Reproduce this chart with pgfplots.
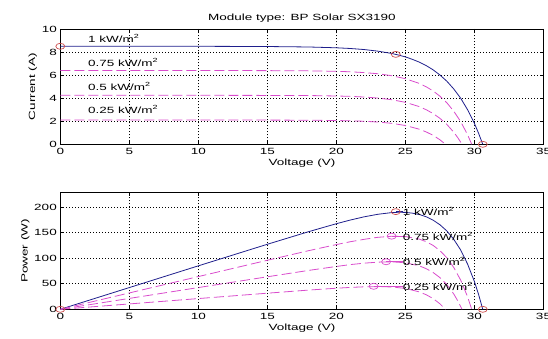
\documentclass[border=0pt]{standalone}
\usepackage{fontspec}
\setmainfont{Liberation Sans}[FakeStretch=1.5]
\usepackage{pgfplots}
\pgfplotsset{compat=1.18}
\definecolor{mblue}{rgb}{0.12,0.12,0.55}
\definecolor{mmag}{rgb}{0.85,0.30,0.80}
\definecolor{mred}{rgb}{0.80,0.30,0.30}
\pgfplotsset{mat/.style={
  scale only axis, width=483.2pt,
  xmin=0, xmax=35, xtick={0,5,...,35},
  grid=major, major grid style={black, line width=0.5pt, dash pattern=on 1pt off 2pt},
  tick align=inside, major tick length=3pt,
  tick style={black, line width=0.5pt},
  axis line style={black, line width=0.6pt},
  font=\fontsize{9}{10}\selectfont,
  /pgf/number format/assume math mode=true,
  xlabel={Voltage (V)},
  xlabel style={yshift=2pt},
  ylabel style={yshift=-2pt},
  clip=true,
}}
\tikzset{mk/.style={only marks, mark=o, mark size=3pt, mark options={solid, line width=0.7pt, xscale=1.5}},
  bl/.style={mblue, line width=0.8pt},
  dl/.style={mmag, line width=0.8pt, dash pattern=on 10pt off 4pt}}
\begin{document}
\begin{tikzpicture}
% ---------- top: current ----------
\begin{axis}[mat, at={(60.3pt,193.7pt)}, anchor=south west, height=115.3pt,
  ymin=0, ymax=10, ytick={0,2,...,10}, ylabel={Current (A)},
  title={Module type: BP Solar SX3190}, title style={yshift=-3pt}]
\addplot[bl] coordinates {(0,8.5)(5,8.5)(10,8.5)(15,8.48)(18,8.44)(20,8.37)(21,8.31)(22,8.22)(23,8.08)(24,7.88)(24.5,7.74)(25,7.58)(25.5,7.37)(26,7.13)(26.5,6.83)(27,6.46)(27.5,6.01)(28,5.47)(28.5,4.80)(29,4.00)(29.5,3.00)(30,1.80)(30.3,0.95)(30.6,0)};
\addplot[dl] coordinates {(0,6.4)(5,6.4)(10,6.4)(15,6.39)(18,6.37)(20,6.33)(21,6.29)(22,6.22)(23,6.12)(24,5.95)(25,5.69)(26,5.28)(26.5,4.99)(27,4.63)(27.5,4.17)(28,3.60)(28.5,2.87)(29,1.97)(29.5,0.83)(29.8,0)};
\addplot[dl] coordinates {(0,4.25)(5,4.25)(10,4.25)(15,4.24)(18,4.23)(20,4.19)(21,4.16)(22,4.10)(23,4.01)(24,3.87)(25,3.64)(26,3.27)(26.5,3.00)(27,2.67)(27.5,2.25)(28,1.72)(28.5,1.05)(28.8,0.56)(29.1,0)};
\addplot[dl] coordinates {(0,2.1)(5,2.1)(10,2.1)(15,2.1)(18,2.09)(20,2.06)(21,2.04)(22,2.00)(23,1.93)(24,1.82)(25,1.63)(26,1.31)(26.5,1.075)(27,0.78)(27.5,0.39)(27.9,0)};
\addplot[mk, mred] coordinates {(0,8.5)(24.3,7.8)(30.6,0)};
\node[anchor=west, inner sep=0pt] at (axis cs:2,9.2) {1 kW/m\textsuperscript{2}};
\node[anchor=west, inner sep=0pt] at (axis cs:2,7.1) {0.75 kW/m\textsuperscript{2}};
\node[anchor=west, inner sep=0pt] at (axis cs:2,5.0) {0.5 kW/m\textsuperscript{2}};
\node[anchor=west, inner sep=0pt] at (axis cs:2,3.0) {0.25 kW/m\textsuperscript{2}};
\end{axis}
% ---------- bottom: power ----------
\begin{axis}[mat, at={(60.3pt,28.7pt)}, anchor=south west, height=116.6pt,
  ymin=0, ymax=228, ytick={0,50,...,200}, ylabel={Power (W)}]
\addplot[bl] coordinates {(0,0)(5,42.5)(10,85.0)(15,127.2)(18,151.9)(20,167.4)(21,174.5)(22,180.8)(23,185.8)(24,189.1)(24.5,189.7)(25,189.5)(25.5,188.0)(26,185.4)(26.5,181.0)(27,174.4)(27.5,165.3)(28,153.2)(28.5,136.8)(29,116.0)(29.5,88.5)(30,54.0)(30.3,28.8)(30.6,0)};
\addplot[dl] coordinates {(0,0)(5,32.0)(10,64.0)(15,95.9)(18,114.7)(20,126.6)(21,132.1)(22,136.8)(23,140.8)(24,142.8)(25,142.3)(26,137.3)(26.5,132.2)(27,125.0)(27.5,114.7)(28,100.8)(28.5,81.8)(29,57.1)(29.5,24.5)(29.8,0)};
\addplot[dl] coordinates {(0,0)(5,21.3)(10,42.5)(15,63.6)(18,76.1)(20,83.8)(21,87.4)(22,90.2)(23,92.2)(24,92.9)(25,91.0)(26,85.0)(26.5,79.5)(27,72.1)(27.5,61.9)(28,48.2)(28.5,29.9)(28.8,16.1)(29.1,0)};
\addplot[dl] coordinates {(0,0)(5,10.5)(10,21.0)(15,31.5)(18,37.6)(20,41.2)(21,42.8)(22,44.0)(23,44.4)(24,43.7)(25,40.8)(26,34.1)(26.5,28.5)(27,21.1)(27.5,10.7)(27.9,0)};
\addplot[mk, mred] coordinates {(0,0)(24.3,191)(30.6,0)};
\addplot[mk, mmag] coordinates {(24.0,143)(23.6,93)(22.7,45)};
\draw[mblue, line width=0.7pt] (axis cs:24.3,191) -- (axis cs:24.8,191);
\draw[mmag, line width=0.7pt] (axis cs:24.0,143) -- (axis cs:24.8,143);
\draw[mmag, line width=0.7pt] (axis cs:23.6,93) -- (axis cs:24.8,93);
\draw[mmag, line width=0.7pt] (axis cs:22.7,45) -- (axis cs:24.8,45);
\node[anchor=west, inner sep=0pt] at (axis cs:24.8,191) {1 kW/m\textsuperscript{2}};
\node[anchor=west, inner sep=0pt] at (axis cs:24.8,143) {0.75 kW/m\textsuperscript{2}};
\node[anchor=west, inner sep=0pt] at (axis cs:24.8,93) {0.5 kW/m\textsuperscript{2}};
\node[anchor=west, inner sep=0pt] at (axis cs:24.8,45) {0.25 kW/m\textsuperscript{2}};
\end{axis}
\pgfresetboundingbox
\path (0pt,0pt) rectangle (548pt,338pt);
\end{tikzpicture}
\end{document}
